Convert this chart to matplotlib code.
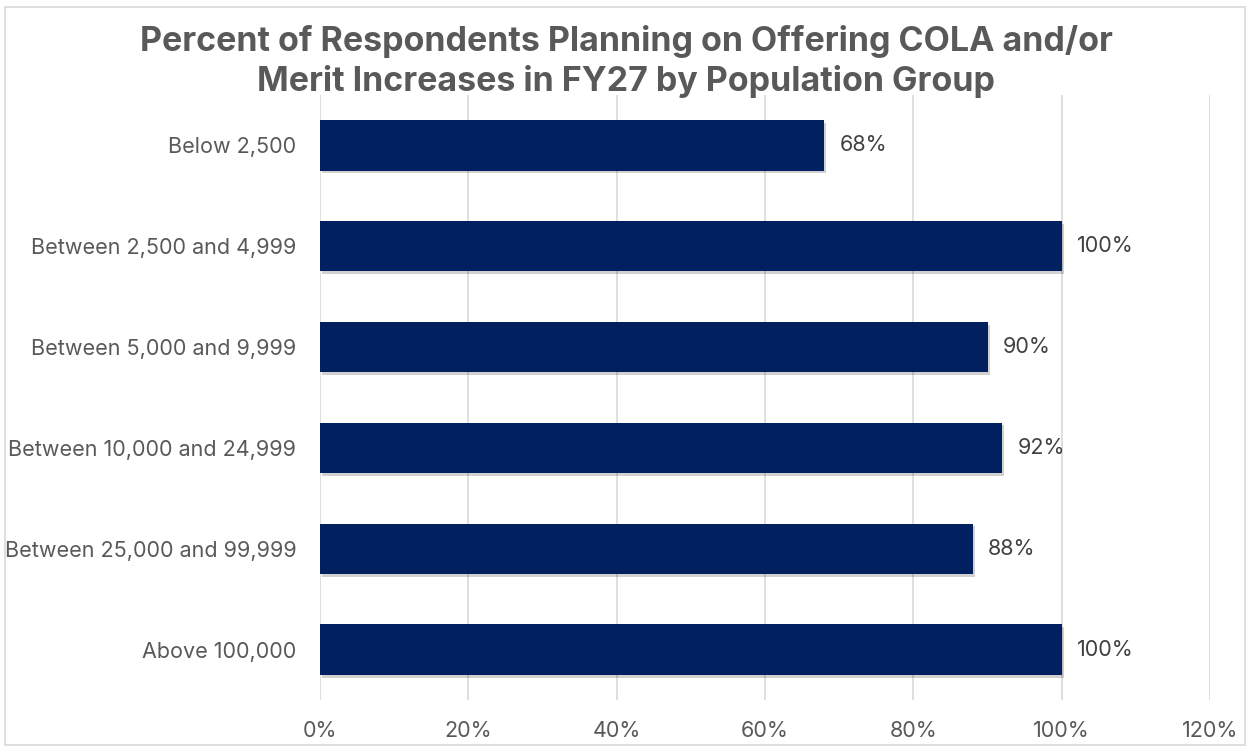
import matplotlib.pyplot as plt
import matplotlib.patheffects as pe
from matplotlib.patches import Rectangle
from matplotlib.ticker import FuncFormatter

# datos
groups = ['Below 2,500', 'Between 2,500 and 4,999', 'Between 5,000 and 9,999',
          'Between 10,000 and 24,999', 'Between 25,000 and 99,999', 'Above 100,000']
pct = [68, 100, 90, 92, 88, 100]
xticks = [0, 20, 40, 60, 80, 100, 120]

plt.rcParams['font.family'] = ['Inter', 'DejaVu Sans']

fig = plt.figure(figsize=(12.52, 7.48), dpi=100)
ax = fig.add_axes([320/1252, 1 - 700/748, 890/1252, 605/748])

ypos = list(range(len(groups)))
bars = ax.barh(ypos, pct, height=0.5, color='#002060', zorder=3)
for b in bars:
    b.set_path_effects([pe.SimplePatchShadow(offset=(1.5, -2), shadow_rgbFace='#000000', alpha=0.18),
                        pe.Normal()])

for y, v in zip(ypos, pct):
    ax.text(v + 2.1, y, f'{v}%', va='center', ha='left', fontsize=15.5, color='#404040')

ax.set_xlim(0, 120)
ax.set_ylim(len(groups) - 0.5, -0.5)
ax.set_xticks(xticks)
ax.xaxis.set_major_formatter(FuncFormatter(lambda v, p: f'{v:.0f}%'))
ax.set_yticks(ypos)
ax.set_yticklabels(groups)
ax.tick_params(axis='both', length=0, labelsize=15.5, colors='#595959')
ax.tick_params(axis='x', pad=15)
ax.tick_params(axis='y', pad=17)
ax.grid(axis='x', color='#d9d9d9', linewidth=1.2, zorder=0)
for s in ax.spines.values():
    s.set_visible(False)

fig.text(0.5, 0.918, 'Percent of Respondents Planning on Offering COLA and/or\nMerit Increases in FY27 by Population Group',
         ha='center', va='center', fontsize=24.5, fontweight='bold', color='#595959', linespacing=1.25)

fig.patches.append(Rectangle((5/1252, 3/748), 1240/1252, 738/748, transform=fig.transFigure,
                             fill=False, edgecolor='#d9d9d9', linewidth=1.2))

fig.savefig('out.png', dpi=100)
